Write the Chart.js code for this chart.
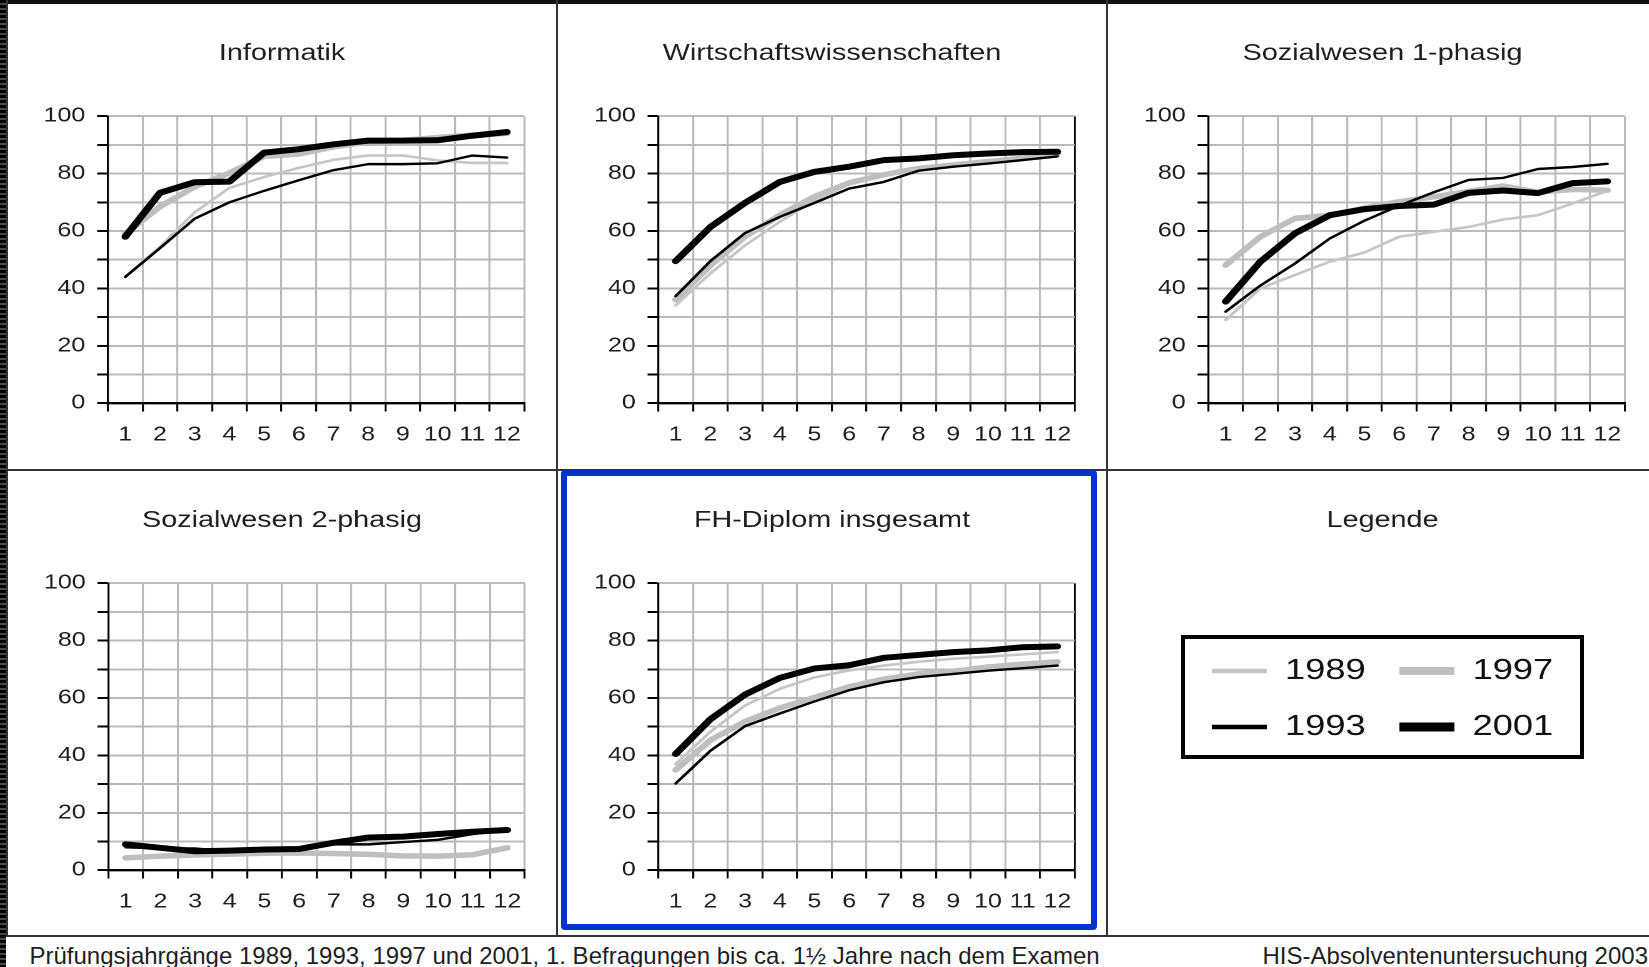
<!DOCTYPE html>
<html><head><meta charset="utf-8">
<script src="https://cdn.jsdelivr.net/npm/chart.js@4.4.1/dist/chart.umd.min.js"></script>
<style>
html,body{margin:0;padding:0;background:#fff;}
body{width:1649px;height:967px;position:relative;overflow:hidden;font-family:'Liberation Sans',Arial,sans-serif;}
.abs{position:absolute;}
.wrap{position:absolute;transform-origin:0 0;}
.foot{position:absolute;font-size:24px;line-height:24px;color:#1e1e1e;white-space:nowrap;}
</style></head><body>
<script>
// ---------- data ----------
const categories = ['1','2','3','4','5','6','7','8','9','10','11','12'];
const seriesNames = ['1989','1993','1997','2001'];
const yTickLabels = [0, 20, 40, 60, 80, 100];
const legendOrder = ['1989','1997','1993','2001'];

const informatik1989 = [44, 54.5, 66.5, 75, 78.8, 82, 84.8, 86.3, 86.3, 84.6, 83.7, 83.7];
const informatik1993 = [44, 54, 64.3, 70, 74, 77.7, 81.2, 83.3, 83.3, 83.6, 86.3, 85.6];
const informatik1997 = [59, 68.5, 75.4, 80.2, 86, 86.8, 89.3, 91, 91.6, 92.6, 93.4, 94];
const informatik2001 = [58, 73.3, 77, 77.2, 87.3, 88.5, 90.2, 91.5, 91.5, 91.6, 93.2, 94.5];

const wiwi1989 = [34.1, 45.2, 55, 63.2, 70.7, 76.2, 79.3, 81.8, 83.5, 84.7, 85.8, 86.8];
const wiwi1993 = [37.3, 49.5, 59.3, 64.9, 69.8, 74.8, 77.1, 81, 82.4, 83.5, 84.7, 86];
const wiwi1997 = [36, 48, 58, 65.5, 72, 76.8, 79.6, 81.8, 83, 84.2, 85.3, 86.8];
const wiwi2001 = [49.5, 61.4, 69.8, 77.1, 80.6, 82.4, 84.7, 85.3, 86.4, 87, 87.5, 87.6];

const soz1_1989 = [29, 40, 44.7, 49.3, 52.5, 58, 59.7, 61.4, 64, 65.5, 69.6, 74];
const soz1_1993 = [31.9, 41, 48.7, 57.4, 63.6, 68.8, 73.5, 77.8, 78.5, 81.6, 82.3, 83.4];
const soz1_1997 = [48.1, 58, 64.4, 65.5, 68, 70.2, 71.9, 73.8, 75.7, 73.5, 74.5, 74.2];
const soz1_2001 = [35.4, 49.3, 59.2, 65.5, 67.6, 68.7, 69.2, 73.3, 74.1, 73.2, 76.7, 77.3];

const soz2_1989 = [9.2, 7.9, 6.7, 6.8, 7.2, 7.4, 9.5, 11.3, 11.6, 12.5, 13.3, 14];
const soz2_1993 = [8, 7.6, 7.6, 6.5, 7, 7.1, 9, 9, 9.8, 10.6, 12.6, 14];
const soz2_1997 = [4.3, 4.9, 5.3, 5.6, 5.9, 6, 5.8, 5.5, 5, 4.9, 5.4, 7.8];
const soz2_2001 = [9, 7.8, 6.6, 6.8, 7.2, 7.4, 9.6, 11.4, 11.7, 12.6, 13.4, 14];

const fh1989 = [37, 48.2, 57.4, 63.2, 67.2, 69.6, 71.3, 72.6, 73.7, 74.4, 75.2, 76];
const fh1993 = [30.2, 41.6, 50.2, 54.6, 58.8, 62.7, 65.5, 67.3, 68.4, 69.5, 70.4, 71.3];
const fh1997 = [34.9, 45.3, 51.8, 56.5, 60.2, 63.9, 66.6, 68.4, 69.3, 70.8, 71.8, 72.6];
const fh2001 = [40.5, 52.6, 61.2, 67, 70.3, 71.4, 74, 75, 76, 76.6, 77.7, 78];

// ---------- styles ----------
const seriesStyle = {
  '1989': {color: '#c6c6c6', width: 2.6, order: 3, legendWidth: 4.5},
  '1993': {color: '#000000', width: 2.4, order: 1, legendWidth: 4.5},
  '1997': {color: '#bfbfbf', width: 5.5, order: 2, legendWidth: 8},
  '2001': {color: '#000000', width: 6,   order: 0, legendWidth: 9}
};
const STRETCH = 1.25;
const GRID = '#bababa';
const TEXT = '#1e1e1e';
const ROW_H = 464;
const CHART_BOTTOM = 398.2;
const TICK_FONT = 20;

Chart.defaults.font.family = "'Liberation Sans', Arial, sans-serif";
Chart.defaults.color = TEXT;

function addDiv(css, text) {
  const d = document.createElement('div');
  d.className = 'abs';
  d.style.cssText += css;
  if (text) d.textContent = text;
  document.body.appendChild(d);
  return d;
}

function makeStage(cl, cr, top, height) {
  const fullW = cr - cl;
  const uw = Math.round(fullW / STRETCH);
  const s = fullW / uw;
  const wrap = document.createElement('div');
  wrap.className = 'wrap';
  wrap.style.left = cl + 'px';
  wrap.style.top = top + 'px';
  wrap.style.width = uw + 'px';
  wrap.style.height = height + 'px';
  wrap.style.transform = 'scaleX(' + s + ')';
  const cv = document.createElement('canvas');
  cv.width = uw; cv.height = height;
  wrap.appendChild(cv);
  document.body.appendChild(wrap);
  return {cv, uw, s, u: x => (x - cl) / s};
}

const panels = [
  {title: 'Informatik', values: [informatik1989, informatik1993, informatik1997, informatik2001],
   cl: 8, cr: 556, top: 4.8, titleX: 282, chartL: 107.9, chartR: 524.3, blackRight: false},
  {title: 'Wirtschaftswissenschaften', values: [wiwi1989, wiwi1993, wiwi1997, wiwi2001],
   cl: 558, cr: 1105, top: 4.8, titleX: 832, chartL: 658.3, chartR: 1074.7, blackRight: true},
  {title: 'Sozialwesen 1-phasig', values: [soz1_1989, soz1_1993, soz1_1997, soz1_2001],
   cl: 1107.5, cr: 1649, top: 4.8, titleX: 1382, chartL: 1207.8, chartR: 1624.2, blackRight: false},
  {title: 'Sozialwesen 2-phasig', values: [soz2_1989, soz2_1993, soz2_1997, soz2_2001],
   cl: 8, cr: 556, top: 471.5, titleX: 282, chartL: 108.3, chartR: 524.7, blackRight: false},
  {title: 'FH-Diplom insgesamt', values: [fh1989, fh1993, fh1997, fh2001],
   cl: 558, cr: 1105, top: 471.5, titleX: 832, chartL: 658.3, chartR: 1074.7, blackRight: true}
];

function panelChart(p) {
  const st = makeStage(p.cl, p.cr, p.top, ROW_H);
  const R = st.uw - st.u(p.chartR);
  const P = 2 * st.u(p.titleX) - st.uw + R;
  const yW = st.u(p.chartL) - P;
  const datasets = seriesNames.map((name, i) => ({
    label: name,
    data: p.values[i],
    borderColor: seriesStyle[name].color,
    backgroundColor: seriesStyle[name].color,
    borderWidth: seriesStyle[name].width,
    order: seriesStyle[name].order,
    pointRadius: 0, pointHoverRadius: 0, pointHitRadius: 0,
    tension: 0, fill: false,
    borderCapStyle: 'round', borderJoinStyle: 'round'
  }));
  new Chart(st.cv, {
    type: 'line',
    data: {labels: categories, datasets},
    options: {
      responsive: false, animation: false, devicePixelRatio: 2,
      events: [],
      layout: {padding: {left: P, right: R, top: 0, bottom: 0}},
      plugins: {
        legend: {display: false},
        tooltip: {enabled: false},
        title: {display: true, text: p.title, color: TEXT,
          font: {size: 23, weight: 'normal', lineHeight: 1.2},
          padding: {top: 35, bottom: 48.6}}
      },
      scales: {
        x: {
          type: 'category', offset: true,
          grid: {offset: true,
            color: c => (p.blackRight && c.type !== 'tick') ? '#000' : GRID,
            lineWidth: 2 / st.s, tickColor: '#000', tickLength: 8.3, tickWidth: 2 / st.s},
          border: {color: '#000', width: 2.4},
          ticks: {font: {size: TICK_FONT}, padding: 11.5, autoSkip: false, maxRotation: 0, minRotation: 0, color: TEXT},
          afterFit: s => { s.height = ROW_H - CHART_BOTTOM; }
        },
        y: {
          type: 'linear', min: 0, max: 100,
          grid: {color: GRID, lineWidth: 2, tickColor: '#000', tickLength: 8.6, tickWidth: 2},
          border: {color: '#000', width: 2 / st.s},
          ticks: {stepSize: 10, autoSkip: false, font: {size: TICK_FONT}, padding: 9.5, color: TEXT,
            callback: v => yTickLabels.includes(v) ? String(v) : ''},
          afterFit: s => { s.width = yW; }
        }
      }
    }
  });
}

function legendChart() {
  const st = makeStage(1107.5, 1649, 471.5, ROW_H);
  const datasets = seriesNames.map(name => ({
    label: name, data: [], borderColor: seriesStyle[name].color, borderWidth: seriesStyle[name].width
  }));
  new Chart(st.cv, {
    type: 'line',
    data: {labels: [], datasets},
    options: {
      responsive: false, animation: false, devicePixelRatio: 2,
      events: [],
      layout: {padding: {left: 6, right: 0, top: 0, bottom: 0}},
      scales: {x: {display: false}, y: {display: false}},
      plugins: {
        tooltip: {enabled: false},
        title: {display: true, text: 'Legende', color: TEXT,
          font: {size: 23, weight: 'normal', lineHeight: 1.2},
          padding: {top: 35, bottom: 94.9}},
        legend: {
          display: true, position: 'top', align: 'center',
          labels: {
            font: {size: 29}, color: '#111',
            usePointStyle: true, pointStyle: 'line', pointStyleWidth: 44,
            padding: 27,
            sort: (a, b) => legendOrder.indexOf(a.text) - legendOrder.indexOf(b.text),
            generateLabels: chart => chart.data.datasets.map((ds, i) => ({
              text: ds.label,
              fillStyle: ds.borderColor,
              strokeStyle: ds.borderColor,
              lineWidth: seriesStyle[ds.label].legendWidth,
              lineCap: 'butt',
              pointStyle: 'line',
              hidden: false,
              datasetIndex: i,
              fontColor: '#111'
            }))
          }
        }
      }
    }
  });
}

// ---------- frame ----------
addDiv('left:0;top:0;width:1649px;height:4px;background:#111;');
addDiv('left:0;top:0;width:6px;height:967px;background:repeating-linear-gradient(to bottom,#000 0,#000 3px,#4a4a4a 3px,#4a4a4a 5px);');
addDiv('left:6px;top:0;width:2px;height:937px;background:#333;');
addDiv('left:555.5px;top:0;width:2px;height:937px;background:#333;');
addDiv('left:1105.5px;top:0;width:2px;height:937px;background:#333;');
addDiv('left:6px;top:469px;width:1643px;height:2px;background:#333;');
addDiv('left:6px;top:935px;width:1643px;height:2px;background:#333;');

panels.forEach(panelChart);
legendChart();

// blue highlight box and legend frame
addDiv('left:561px;top:469.5px;width:536px;height:460px;box-sizing:border-box;border:6.5px solid #0033cc;border-radius:4px;');
addDiv('left:1180.5px;top:635px;width:403.5px;height:124px;box-sizing:border-box;border:4px solid #000;');

// footer
const f1 = document.createElement('div');
f1.className = 'foot';
f1.style.left = '29.5px'; f1.style.top = '943.7px';
f1.textContent = 'Prüfungsjahrgänge 1989, 1993, 1997 und 2001, 1. Befragungen bis ca. 1½ Jahre nach dem Examen';
document.body.appendChild(f1);
const f2 = document.createElement('div');
f2.className = 'foot';
f2.style.right = '1px'; f2.style.top = '943.7px';
f2.textContent = 'HIS-Absolventenuntersuchung 2003';
document.body.appendChild(f2);
</script>
</body></html>
